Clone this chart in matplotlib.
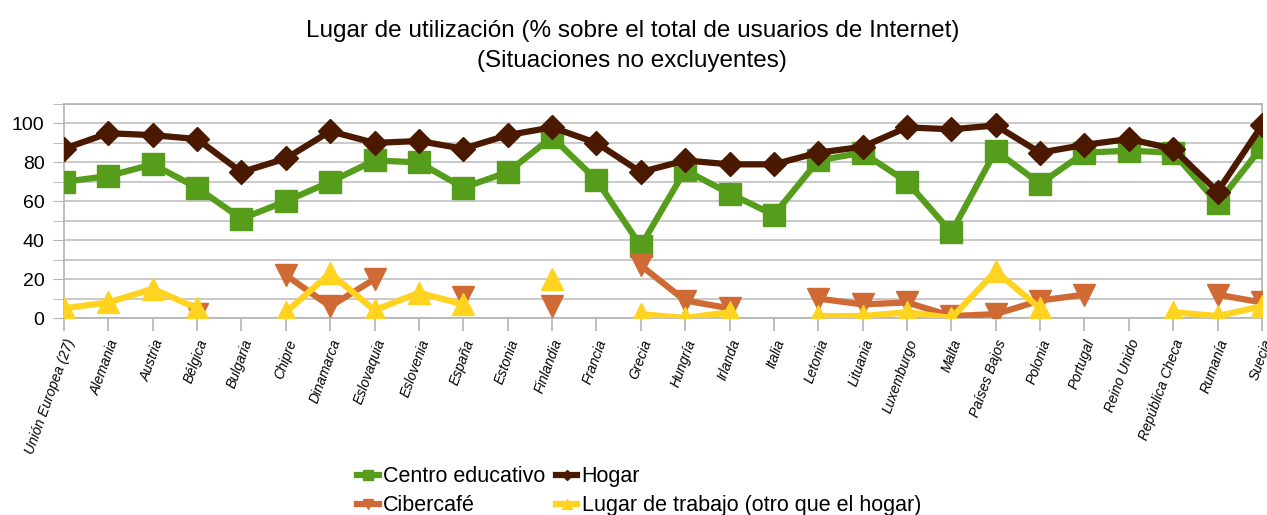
import matplotlib

matplotlib.use("Agg")
import matplotlib.pyplot as plt
import numpy as np
from matplotlib.ticker import MultipleLocator

plt.rcParams["font.family"] = ["Liberation Sans", "DejaVu Sans"]

paises = ["Unión Europea (27)", "Alemania", "Austria", "Bélgica", "Bulgaria", "Chipre",
          "Dinamarca", "Eslovaquia", "Eslovenia", "España", "Estonia", "Finlandia",
          "Francia", "Grecia", "Hungría", "Irlanda", "Italia", "Letonia", "Lituania",
          "Luxemburgo", "Malta", "Países Bajos", "Polonia", "Portugal", "Reino Unido",
          "República Checa", "Rumanía", "Suecia"]

nan = np.nan
centro_educativo = [70, 73, 79, 67, 51, 60, 70, 81, 80, 67, 75, 93, 71, 37, 76, 64, 53,
                    81, 85, 70, 44, 86, 69, 85, 86, 85, 59, 88]
hogar = [87, 95, 94, 92, 75, 82, 96, 90, 91, 87, 94, 98, 90, 75, 81, 79, 79,
         85, 88, 98, 97, 99, 85, 89, 92, 87, 65, 99]
cibercafe = [nan, nan, nan, 2, nan, 22, 6, 20, nan, 11, nan, 6, nan, 27, 9, 5, nan,
             10, 7, 8, 1, 2, 9, 12, nan, nan, 12, 8]
trabajo = [5, 8, 15, 5, nan, 3, 23, 4, 13, 7, nan, 20, nan, 2, 0, 3, nan,
           1, 1, 3, 0, 24, 5, nan, nan, 3, 1, 6]

GREEN, BROWN, ORANGE, YELLOW = "#579d1c", "#4b1900", "#cf6a35", "#ffd320"

fig = plt.figure(figsize=(12.67, 5.15), dpi=100)
ax = fig.add_axes([0.0505, 0.3825, 0.9455, 0.4155])

x = np.arange(len(paises))
l1, = ax.plot(x, centro_educativo, color=GREEN, lw=4.5, marker="s", ms=16, label="Centro educativo", zorder=3)
l2, = ax.plot(x, hogar, color=BROWN, lw=4.5, marker="D", ms=12.5, label="Hogar", zorder=4)
l3, = ax.plot(x, cibercafe, color=ORANGE, lw=4.5, marker="v", ms=16, label="Cibercafé", zorder=3)
l4, = ax.plot(x, trabajo, color=YELLOW, lw=4.5, marker="^", ms=16,
              label="Lugar de trabajo (otro que el hogar)", zorder=3)

ax.set_xlim(0, len(paises) - 1)
ax.set_ylim(0, 110)
ax.yaxis.set_major_locator(MultipleLocator(20))
ax.yaxis.set_minor_locator(MultipleLocator(10))
ax.grid(axis="y", which="both", color="#c0c0c0", lw=1.2, zorder=0)
ax.set_axisbelow(True)
ax.tick_params(axis="y", which="both", length=8, color="#b3b3b3", labelsize=14, pad=6)
ax.tick_params(axis="x", length=9, color="#b3b3b3", width=1.2, pad=5)

ax.set_xticks(x)
ax.set_xticklabels(paises, rotation=70, ha="right", va="top", rotation_mode="anchor",
                   fontsize=10, style="italic")
for s in ax.spines.values():
    s.set_color("#b3b3b3")
    s.set_linewidth(1.2)

fig.text(0.499, 0.940, "Lugar de utilización (% sobre el total de usuarios de Internet)",
         ha="center", va="center", fontsize=17.5)
fig.text(0.499, 0.882, "(Situaciones no excluyentes)", ha="center", va="center", fontsize=17.5)

# order so that the first row reads Centro educativo / Hogar
fig.legend([l1, l3, l2, l4], [l.get_label() for l in (l1, l3, l2, l4)],
           loc="upper left", bbox_to_anchor=(0.2818, 0.095), ncol=2, frameon=False,
           borderaxespad=0, borderpad=0,
           fontsize=15.5, handlelength=1.0, markerscale=0.42, columnspacing=0.5,
           handletextpad=0.2, labelspacing=0.38)

fig.savefig("out.png", dpi=100, facecolor="white")
